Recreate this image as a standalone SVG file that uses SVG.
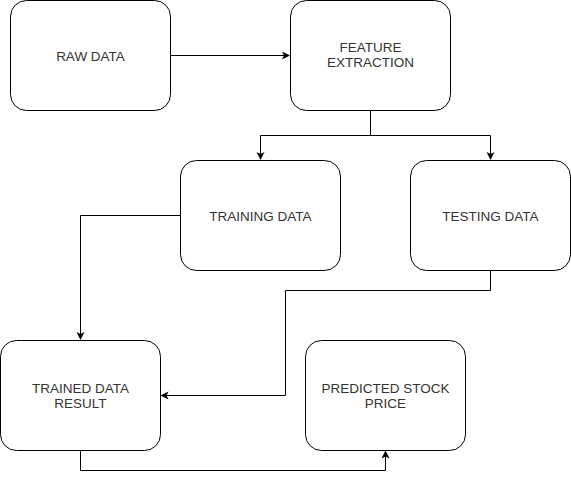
<svg xmlns="http://www.w3.org/2000/svg" width="571" height="479" viewBox="0 0 571 479">
<style>
.node{fill:#fff;stroke:#000;stroke-width:1}
.lbl{font-family:"Liberation Sans",Arial,sans-serif;font-size:13.5px;fill:#333;text-anchor:middle}
.edge{fill:none;stroke:#000;stroke-width:1}
</style>
<defs>
<marker id="arr" markerWidth="10" markerHeight="10" refX="7" refY="4" orient="auto" markerUnits="userSpaceOnUse">
<path d="M0,0 L8,4 L0,8 L2,4 Z" fill="#000"/>
</marker>
</defs>
<rect width="571" height="479" fill="#fff"/>
<g id="connectors">
<path class="edge" d="M170.5,55.5 H289" marker-end="url(#arr)"/>
<path class="edge" d="M370.5,110.5 V135.5 H260.5 V159" marker-end="url(#arr)"/>
<path class="edge" d="M370.5,135.5 H490.5 V159" marker-end="url(#arr)"/>
<path class="edge" d="M180.5,215.5 H80.5 V339" marker-end="url(#arr)"/>
<path class="edge" d="M490.5,270.5 V290.5 H285.5 V395.5 H161.5" marker-end="url(#arr)"/>
<path class="edge" d="M80.5,450.5 V470.5 H385.5 V451.5" marker-end="url(#arr)"/>
</g>
<g id="raw-data">
<rect class="node" x="10.5" y="0.5" width="160" height="110" rx="16"/>
<text class="lbl" x="90.5" y="61">RAW DATA</text>
</g>
<g id="feature-extraction">
<rect class="node" x="290.5" y="0.5" width="160" height="110" rx="16"/>
<text class="lbl" x="370.5" y="52">FEATURE</text>
<text class="lbl" x="370.5" y="67">EXTRACTION</text>
</g>
<g id="training-data">
<rect class="node" x="180.5" y="160.5" width="160" height="110" rx="16"/>
<text class="lbl" x="260.5" y="221">TRAINING DATA</text>
</g>
<g id="testing-data">
<rect class="node" x="410.5" y="160.5" width="160" height="110" rx="16"/>
<text class="lbl" x="490.5" y="221">TESTING DATA</text>
</g>
<g id="trained-data-result">
<rect class="node" x="0.5" y="340.5" width="160" height="110" rx="16"/>
<text class="lbl" x="80.5" y="392.5">TRAINED DATA</text>
<text class="lbl" x="80.5" y="407.5">RESULT</text>
</g>
<g id="predicted-stock-price">
<rect class="node" x="305.5" y="340.5" width="160" height="110" rx="16"/>
<text class="lbl" x="385.5" y="392.5">PREDICTED STOCK</text>
<text class="lbl" x="385.5" y="407.5">PRICE</text>
</g>
</svg>
